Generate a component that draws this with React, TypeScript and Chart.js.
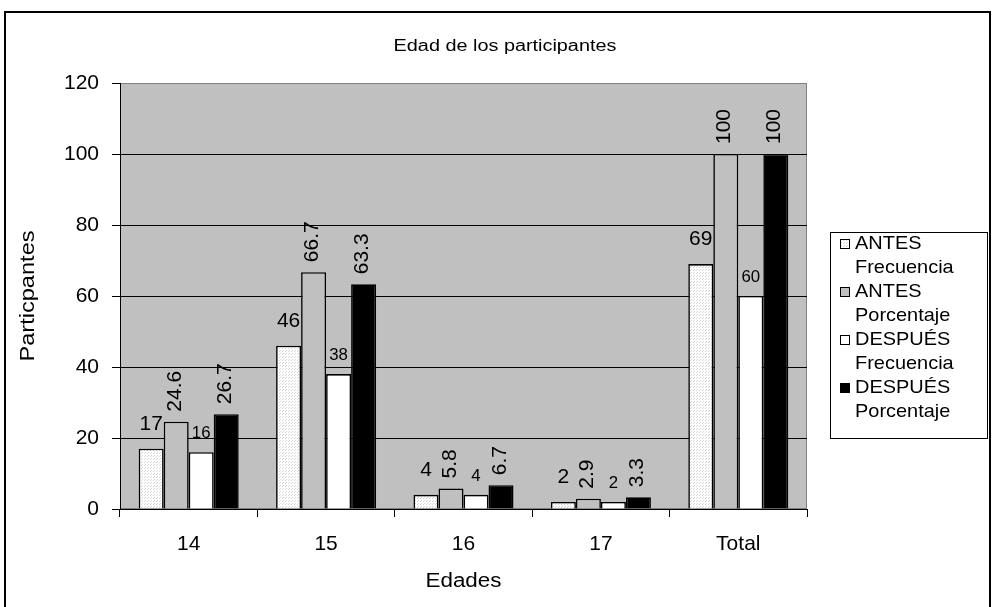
import React, { useEffect, useRef } from 'react';
import { Chart, registerables } from 'chart.js';

Chart.register(...registerables);

// Age groups on the category axis
const edades = ['14', '15', '16', '17', 'Total'];

// Series values
const antesFrecuencia = [17, 46, 4, 2, 69];
const antesPorcentaje = [24.6, 66.7, 5.8, 2.9, 100];
const despuesFrecuencia = [16, 38, 4, 2, 60];
const despuesPorcentaje = [26.7, 63.3, 6.7, 3.3, 100];

// Legend entries (two lines each)
const serieNombres = [
  ['ANTES', 'Frecuencia'],
  ['ANTES', 'Porcentaje'],
  ['DESPUÉS', 'Frecuencia'],
  ['DESPUÉS', 'Porcentaje'],
];

const titulo = 'Edad de los participantes';
const tituloX = 'Edades';
const tituloY = 'Particpantes';

const FONT = '"Liberation Sans", Arial, Helvetica, sans-serif';

function dottedPattern(): CanvasPattern | string {
  const c = document.createElement('canvas');
  c.width = 3;
  c.height = 3;
  const g = c.getContext('2d');
  if (!g) return '#f2f2f2';
  g.fillStyle = '#ffffff';
  g.fillRect(0, 0, 3, 3);
  g.fillStyle = '#d4d4d4';
  g.fillRect(0, 0, 1, 1);
  g.fillRect(1, 2, 1, 1);
  const p = g.createPattern(c, 'repeat');
  return p || '#f2f2f2';
}

// Draws text with an optional horizontal stretch and rotation
function drawText(
  ctx: CanvasRenderingContext2D,
  text: string,
  x: number,
  y: number,
  size: number,
  opts: { align?: CanvasTextAlign; baseline?: CanvasTextBaseline; stretch?: number; rotate?: number } = {}
) {
  ctx.save();
  ctx.translate(x, y);
  if (opts.rotate) ctx.rotate(opts.rotate);
  ctx.scale(opts.stretch ?? 1, 1);
  ctx.font = `${size}px ${FONT}`;
  ctx.fillStyle = '#000';
  ctx.textAlign = opts.align ?? 'center';
  ctx.textBaseline = opts.baseline ?? 'middle';
  ctx.fillText(text, 0, 0);
  ctx.restore();
}

export default function App() {
  const canvasRef = useRef<HTMLCanvasElement | null>(null);

  useEffect(() => {
    const canvas = canvasRef.current;
    if (!canvas) return;
    const pattern = dottedPattern();
    const fills: (string | CanvasPattern)[] = [pattern, '#c0c0c0', '#ffffff', '#000000'];

    // Label style per series: rotated or horizontal, font size, gap above the bar
    const labelStyle = [
      { rotate: false, size: 20, gap: 19 },
      { rotate: true, size: 20, gap: 10 },
      { rotate: false, size: 16, gap: 14 },
      { rotate: true, size: 20, gap: 10 },
    ];

    const framePlugin = {
      id: 'frame',
      beforeDraw(chart: Chart) {
        const { ctx, chartArea: a } = chart;
        ctx.save();
        ctx.fillStyle = '#ffffff';
        ctx.fillRect(0, 0, chart.width, chart.height);
        ctx.fillStyle = '#c0c0c0';
        ctx.fillRect(a.left, a.top, a.right - a.left, a.bottom - a.top);
        ctx.strokeStyle = '#808080';
        ctx.lineWidth = 1;
        ctx.strokeRect(a.left + 0.5, a.top + 0.5, a.right - a.left - 1, a.bottom - a.top - 1);
        ctx.strokeStyle = '#000000';
        ctx.lineWidth = 2;
        ctx.strokeRect(5, 12, 985, 620);
        ctx.restore();
      },
      afterDatasetsDraw(chart: Chart) {
        const { ctx } = chart;
        chart.data.datasets.forEach((ds, di) => {
          const meta = chart.getDatasetMeta(di);
          const st = labelStyle[di];
          meta.data.forEach((el: any, i: number) => {
            const v = ds.data[i] as number;
            const text = String(v);
            if (st.rotate) {
              drawText(ctx, text, el.x - 1, el.y - st.gap, st.size, {
                align: 'left',
                baseline: 'middle',
                rotate: -Math.PI / 2,
                stretch: 1.05,
              });
            } else {
              drawText(ctx, text, el.x, el.y - st.gap, st.size, {
                align: 'center',
                baseline: 'alphabetic',
                stretch: 1.05,
              });
            }
          });
        });
      },
      afterDraw(chart: Chart) {
        const { ctx, chartArea: a } = chart;
        // Chart title
        drawText(ctx, titulo, 505, 47, 16, { stretch: 1.24 });
        // Axis titles
        drawText(ctx, tituloX, (a.left + a.right) / 2, 581, 20, { stretch: 1.12 });
        drawText(ctx, tituloY, 28, (a.top + a.bottom) / 2, 20, { stretch: 1.18, rotate: -Math.PI / 2 });

        // Legend box
        const bx = 830, by = 232, bw = 157, bh = 206;
        ctx.save();
        ctx.fillStyle = '#ffffff';
        ctx.fillRect(bx, by, bw, bh);
        ctx.strokeStyle = '#000000';
        ctx.lineWidth = 1;
        ctx.strokeRect(bx + 0.5, by + 0.5, bw, bh);
        ctx.restore();
        serieNombres.forEach((lines, i) => {
          const y1 = 244 + i * 48;
          ctx.save();
          ctx.fillStyle = fills[i] as any;
          ctx.fillRect(840, y1 - 5, 10, 10);
          ctx.strokeStyle = '#000000';
          ctx.lineWidth = 1;
          ctx.strokeRect(840.5, y1 - 4.5, 9, 9);
          ctx.restore();
          drawText(ctx, lines[0], 855, y1, 19, { align: 'left', stretch: 1.05 });
          drawText(ctx, lines[1], 855, y1 + 24, 19, { align: 'left', stretch: 1.05 });
        });
      },
    };

    const chart = new Chart(canvas, {
      type: 'bar',
      data: {
        labels: edades,
        datasets: [
          { label: serieNombres[0].join(' '), data: antesFrecuencia, backgroundColor: fills[0] as any },
          { label: serieNombres[1].join(' '), data: antesPorcentaje, backgroundColor: fills[1] as any },
          { label: serieNombres[2].join(' '), data: despuesFrecuencia, backgroundColor: fills[2] as any },
          { label: serieNombres[3].join(' '), data: despuesPorcentaje, backgroundColor: fills[3] as any },
        ].map((d) => ({
          ...d,
          borderColor: '#000000',
          borderWidth: 1.6,
          borderSkipped: 'bottom' as const,
          categoryPercentage: 0.728,
          barPercentage: 1,
          inflateAmount: 0,
        })),
      },
      options: {
        responsive: false,
        animation: false,
        layout: { padding: { top: 83, right: 185, left: 0, bottom: 0 } },
        plugins: {
          legend: { display: false },
          title: { display: false },
          tooltip: { enabled: false },
        },
        scales: {
          x: {
            offset: true,
            afterFit: (s: any) => {
              s.height = 98;
            },
            grid: {
              offset: true,
              drawOnChartArea: false,
              drawTicks: true,
              tickLength: 8,
              color: '#000000',
              tickColor: '#000000',
            },
            border: { display: true, color: '#000000', width: 1 },
            ticks: {
              color: '#000000',
              font: { family: FONT, size: 21 },
              padding: 15,
            },
          },
          y: {
            min: 0,
            max: 120,
            afterFit: (s: any) => {
              s.width = 120;
            },
            grid: {
              color: (c: any) => (c.tick && c.tick.value === 120 ? 'rgba(0,0,0,0)' : '#000000'),
              tickColor: '#000000',
              tickLength: 8,
              lineWidth: 1,
            },
            border: { display: true, color: '#000000', width: 1 },
            ticks: {
              stepSize: 20,
              color: '#000000',
              font: { family: FONT, size: 21 },
              padding: 13,
            },
          },
        },
      },
      plugins: [framePlugin],
    });

    return () => chart.destroy();
  }, []);

  return (
    <div style={{ position: 'absolute', left: 0, top: 0, width: 992, height: 607 }}>
      <canvas ref={canvasRef} width={992} height={607} style={{ display: 'block' }} />
    </div>
  );
}
